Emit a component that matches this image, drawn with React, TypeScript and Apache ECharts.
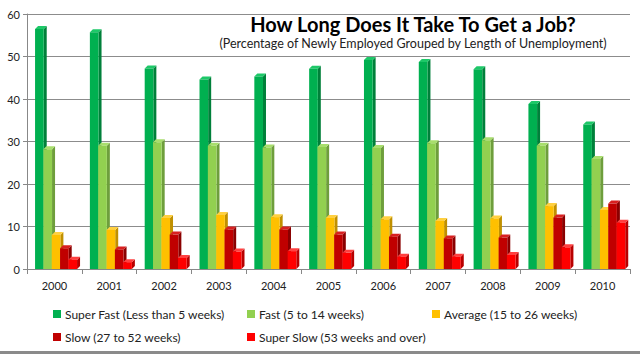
import React, { useEffect, useRef } from "react";
import * as echarts from "echarts";

const years = ["2000", "2001", "2002", "2003", "2004", "2005", "2006", "2007", "2008", "2009", "2010"];
const seriesNames = [
  "Super Fast (Less than 5 weeks)",
  "Fast (5 to 14 weeks)",
  "Average (15 to 26 weeks)",
  "Slow (27 to 52 weeks)",
  "Super Slow (53 weeks and over)",
];
const superFast = [56.5, 55.7, 47.2, 44.6, 45.3, 47.1, 49.2, 48.7, 47.0, 38.8, 34.0];
const fast = [28.2, 29.0, 29.8, 29.0, 28.6, 28.7, 28.5, 29.6, 30.3, 29.0, 25.9];
const average = [8.0, 9.2, 12.0, 12.7, 12.2, 12.0, 11.7, 11.3, 11.9, 14.8, 13.9];
const slow = [4.9, 4.6, 8.1, 9.3, 9.3, 8.1, 7.6, 7.2, 7.4, 12.1, 15.4];
const superSlow = [2.2, 1.6, 2.6, 4.1, 4.2, 3.8, 2.9, 2.9, 3.3, 5.1, 10.9];
const yTicks = [0, 10, 20, 30, 40, 50, 60];

const values = [superFast, fast, average, slow, superSlow];
const frontColors = ["#00B050", "#92D050", "#FFC000", "#C00000", "#FF0000"];
const sideColors = ["#00803A", "#6E9E3C", "#C09000", "#8A0000", "#B80000"];
const topColors = ["#1DC868", "#A8DE6C", "#FFD040", "#D82020", "#FF4040"];

const FONT = "Lato, 'Open Sans', sans-serif";

export default function App() {
  const ref = useRef<HTMLDivElement>(null);
  useEffect(() => {
    if (!ref.current) return;
    const chart = echarts.init(ref.current, null, { renderer: "svg" });

    const makeSeries = (k: number) => ({
      type: "custom",
      name: seriesNames[k],
      itemStyle: { color: frontColors[k] },
      data: values[k].map((v, i) => [i, v]),
      encode: { x: 0, y: 1 },
      renderItem: (params: any, api: any) => {
        const idx = api.value(0);
        const val = api.value(1);
        const top = api.coord([idx, val]);
        const base = api.coord([idx, 0]);
        const bw = api.size([1, 0])[0];
        const w = bw * 0.158;
        const d = 3;
        const x0 = top[0] - bw * 0.353 + k * bw * 0.152;
        const yT = top[1];
        const yB = base[1];
        return {
          type: "group",
          children: [
            {
              type: "polygon",
              shape: { points: [[x0 + w, yT], [x0 + w + d, yT - d], [x0 + w + d, yB - d], [x0 + w, yB]] },
              style: { fill: sideColors[k] },
            },
            {
              type: "polygon",
              shape: { points: [[x0, yT], [x0 + d, yT - d], [x0 + w + d, yT - d], [x0 + w, yT]] },
              style: { fill: topColors[k] },
            },
            {
              type: "rect",
              shape: { x: x0, y: yT, width: w, height: yB - yT },
              style: { fill: frontColors[k] },
            },
          ],
        };
      },
    });

    const legendPos = [
      { left: 48, top: 303 },
      { left: 242, top: 303 },
      { left: 427, top: 303 },
      { left: 48, top: 326 },
      { left: 242, top: 326 },
    ];

    chart.setOption({
      animation: false,
      backgroundColor: "#ffffff",
      title: {
        text: "How Long Does It Take To Get a Job?",
        subtext: "(Percentage of Newly Employed Grouped by Length of Unemployment)",
        left: 408,
        textAlign: "center",
        top: 9,
        itemGap: 3,
        textStyle: { fontFamily: FONT, fontSize: 20, fontWeight: "bold", color: "#000" },
        subtextStyle: { fontFamily: FONT, fontSize: 12.5, color: "#222" },
      },
      legend: seriesNames.map((n, k) => ({
        data: [n],
        left: legendPos[k].left,
        top: legendPos[k].top,
        icon: "rect",
        itemWidth: 8,
        itemHeight: 8,
        itemGap: 4,
        textStyle: { fontFamily: FONT, fontSize: 12, color: "#222", padding: [0, 0, 0, -1] },
        selectedMode: false,
      })),
      grid: { left: 27, right: 10, top: 14, bottom: 85, containLabel: false },
      xAxis: {
        type: "category",
        data: years,
        axisLine: { lineStyle: { color: "#888" } },
        axisTick: { show: true, length: 5, lineStyle: { color: "#888" } },
        axisLabel: { fontFamily: FONT, fontSize: 11, color: "#222", margin: 11 },
      },
      yAxis: {
        type: "value",
        min: yTicks[0],
        max: yTicks[yTicks.length - 1],
        interval: 10,
        axisLine: { show: true, lineStyle: { color: "#888" } },
        axisTick: { show: true, length: 4, lineStyle: { color: "#888" } },
        axisLabel: { fontFamily: FONT, fontSize: 11, color: "#222", margin: 7 },
        splitLine: { lineStyle: { color: "#8c8c8c", width: 1 } },
      },
      graphic: [
        {
          type: "rect",
          shape: { x: 0, y: 351, width: 640, height: 3 },
          style: { fill: "#8a8a8a" },
        },
      ],
      series: [0, 1, 2, 3, 4].map(makeSeries),
    });
    return () => chart.dispose();
  }, []);
  return <div ref={ref} style={{ width: 640, height: 354, position: "absolute", left: 0, top: 0 }} />;
}
